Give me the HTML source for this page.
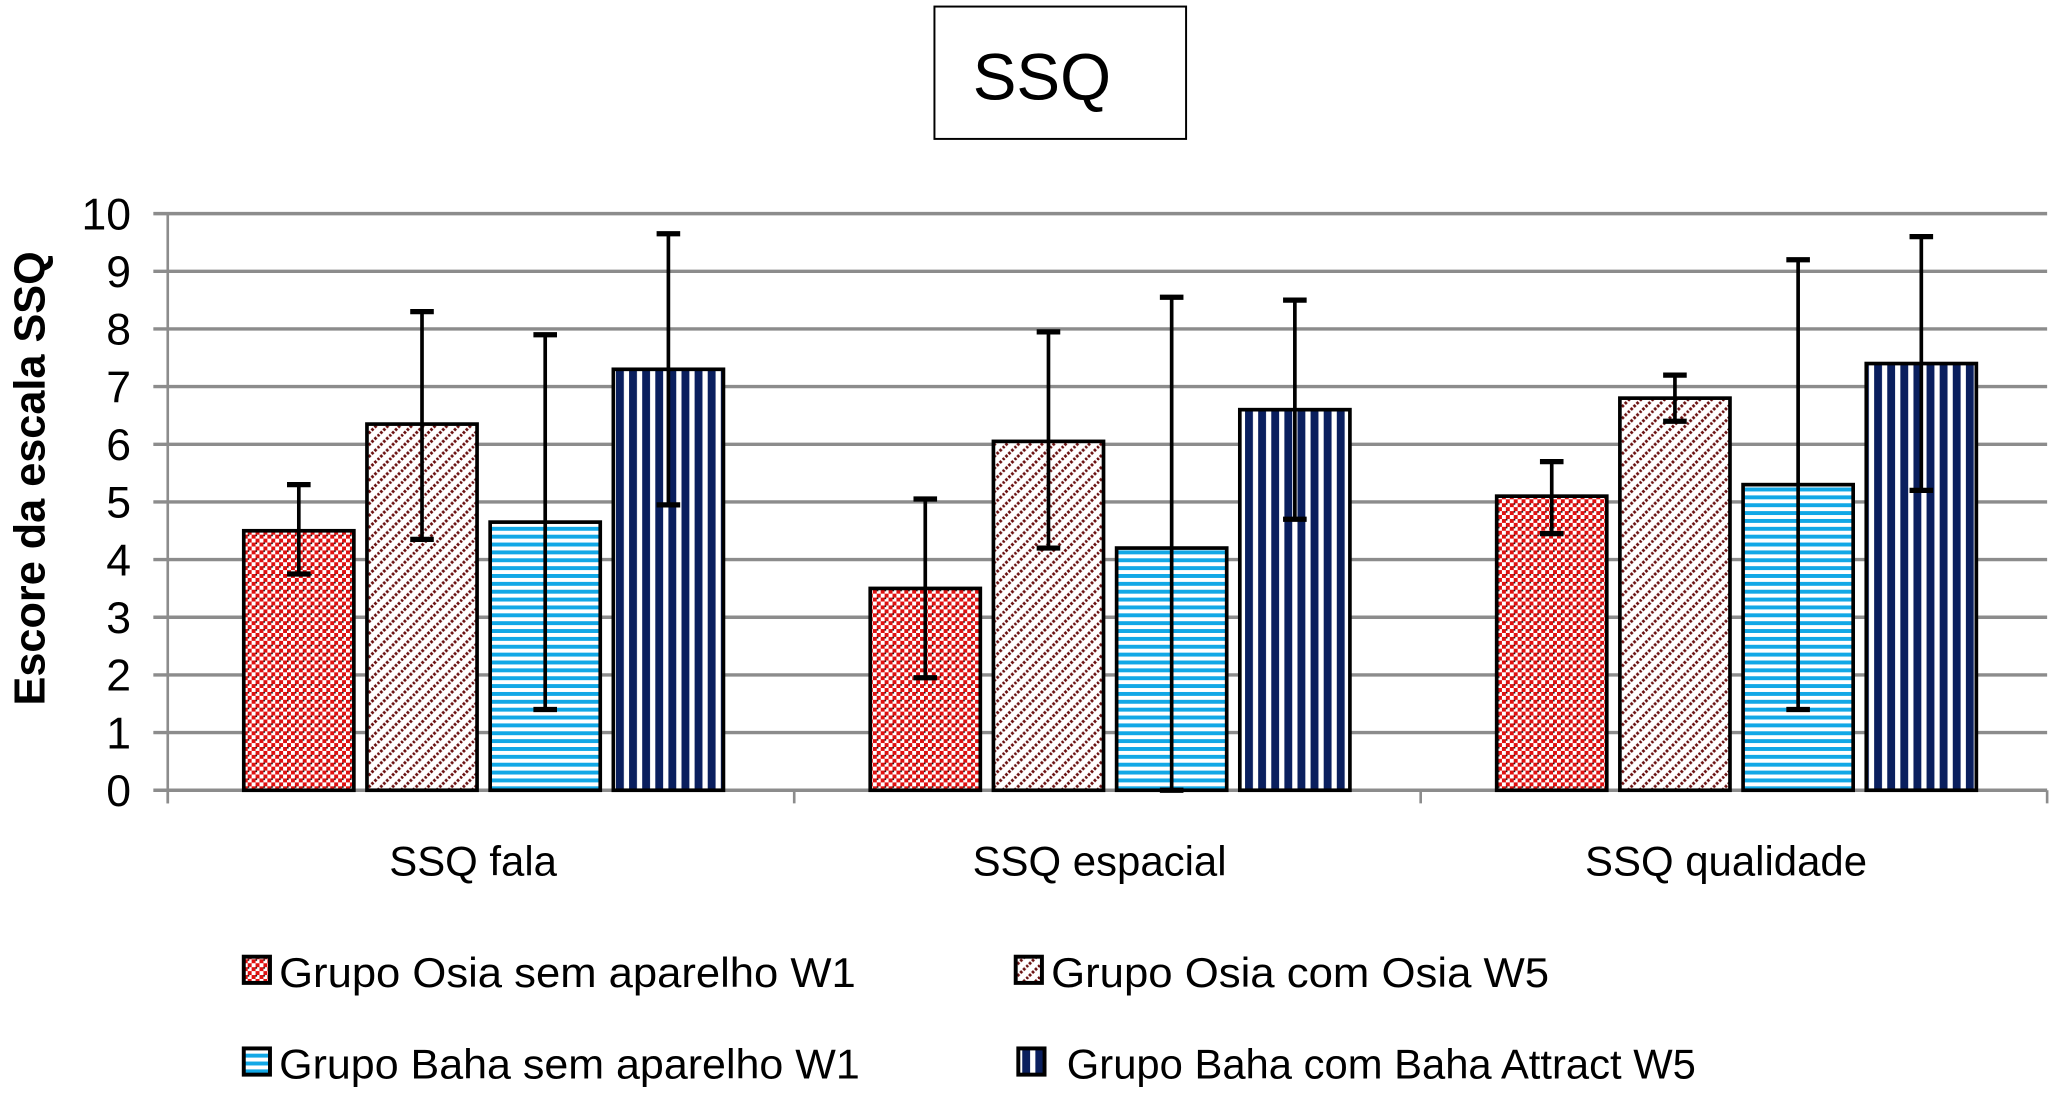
<!DOCTYPE html>
<html><head><meta charset="utf-8"><style>
html,body{margin:0;padding:0;background:#fff;}
svg{display:block;}
text{font-family:"Liberation Sans",sans-serif;}
</style></head><body>
<svg id="chart" width="2055" height="1096" viewBox="0 0 1568 836.3" preserveAspectRatio="none" xmlns="http://www.w3.org/2000/svg">
<defs>
<pattern id="p0" width="6" height="6" patternUnits="userSpaceOnUse">
<rect width="6" height="6" fill="#fff"/><rect width="3" height="3" fill="#e01010"/><rect x="3" y="3" width="3" height="3" fill="#e01010"/><rect x="3" y="0" width="1.2" height="1.2" fill="#222"/>
</pattern>
<pattern id="p1" width="9" height="9" patternUnits="userSpaceOnUse">
<rect width="9" height="9" fill="#fff"/><path d="M-2,2 L2,-2 M0,9 L9,0 M7,11 L11,7" stroke="#6a1010" stroke-width="2.2" stroke-dasharray="2,1.2"/>
</pattern>
<pattern id="p2" width="6" height="6" patternUnits="userSpaceOnUse">
<rect width="6" height="6" fill="#fff"/><rect y="0" width="6" height="3" fill="#12a8e6"/>
</pattern>
<pattern id="p3" width="10" height="10" patternUnits="userSpaceOnUse">
<rect width="10" height="10" fill="#fff"/><rect x="0" width="6" height="10" fill="#0a1f5e"/>
</pattern>
</defs>
<rect x="713" y="5" width="192" height="101" fill="#fff" stroke="#000" stroke-width="1.5"/>
<text x="795" y="76" font-size="50" text-anchor="middle" font-family="DejaVu Sans, sans-serif">SSQ</text>
<text transform="translate(34,365) rotate(-90)" font-size="33" font-weight="bold" text-anchor="middle">Escore da escala SSQ</text>
<g id="grid"></g>
<g id="bars"></g>
<g id="legend"></g>
</svg>
<script>
const categories = ["SSQ fala", "SSQ espacial", "SSQ qualidade"];
const seriesNames = ["Grupo Osia sem aparelho W1", "Grupo Osia com Osia W5", "Grupo Baha sem aparelho W1", "Grupo Baha com Baha Attract W5"];
const osiaW1 = [4.5, 3.5, 5.1];
const osiaW5 = [6.35, 6.05, 6.8];
const bahaW1 = [4.65, 4.2, 5.3];
const bahaW5 = [7.3, 6.6, 7.4];
const errLow = [[3.75, 1.95, 4.45], [4.35, 4.2, 6.4], [1.4, 0, 1.4], [4.95, 4.7, 5.2]];
const errHigh = [[5.3, 5.05, 5.7], [8.3, 7.95, 7.2], [7.9, 8.55, 9.2], [9.65, 8.5, 9.6]];
const yTicks = [0,1,2,3,4,5,6,7,8,9,10];

const NS = "http://www.w3.org/2000/svg";
const series = [osiaW1, osiaW5, bahaW1, bahaW5];
const x0 = 128, x1 = 1562, yTop = 163, yBot = 603;
const y = v => yBot - (v / 10) * (yBot - yTop);
const catW = (x1 - x0) / categories.length;
const barW = 84, gap = 10, groupOff = 58;
const bx = (c, s) => x0 + c * catW + groupOff + s * (barW + gap);
function mk(tag, attrs, parent) {
  const e = document.createElementNS(NS, tag);
  for (const k in attrs) e.setAttribute(k, attrs[k]);
  parent.appendChild(e);
  return e;
}
const grid = document.getElementById('grid');
yTicks.forEach(t => {
  const l = mk('line', {x1: 117, x2: x1, y1: y(t), y2: y(t), stroke: '#8c8c8c', 'stroke-width': 2.6}, grid);
  
  
  const tx = mk('text', {x: 100, y: y(t) + 12, 'font-size': 34, 'text-anchor': 'end', 'font-family': 'DejaVu Sans, sans-serif'}, grid);
  tx.textContent = t;
  
  
});
const ax = mk('line', {x1: x0, x2: x0, y1: yTop, y2: yBot + 10, stroke: '#8c8c8c', 'stroke-width': 2}, grid);


for (let c = 0; c <= categories.length; c++) {
  const tk = mk('line', {x1: x0 + c * catW, x2: x0 + c * catW, y1: yBot, y2: yBot + 10, stroke: '#8c8c8c', 'stroke-width': 2}, grid);
  
  
}
categories.forEach((cat, c) => {
  const tx = mk('text', {x: x0 + (c + 0.5) * catW - 6, y: 668, 'font-size': 32, 'text-anchor': 'middle'}, grid);
  tx.textContent = cat;
  
  
});
const bars = document.getElementById('bars');
categories.forEach((cat, c) => {
  series.forEach((arr, s) => {
    const v = arr[c];
    const r = mk('rect', {x: bx(c, s), y: y(v), width: barW, height: yBot - y(v), fill: 'url(#p' + s + ')', stroke: '#000', 'stroke-width': 2.8}, bars);
    
    
  });
});
categories.forEach((cat, c) => {
  series.forEach((arr, s) => {
    const cx = bx(c, s) + barW / 2;
    const lo = y(errLow[s][c]), hi = y(errHigh[s][c]);
    const g = mk('g', {stroke: '#000', 'stroke-width': 2.8}, bars);
    
    
    mk('line', {x1: cx, x2: cx, y1: lo, y2: hi}, g);
    mk('line', {x1: cx - 9, x2: cx + 9, y1: lo, y2: lo, 'stroke-width': 4}, g);
    mk('line', {x1: cx - 9, x2: cx + 9, y1: hi, y2: hi, 'stroke-width': 4}, g);
  });
});
const legend = document.getElementById('legend');
const legPos = [[186, 742], [775, 742], [186, 812], [777, 812]];
seriesNames.forEach((name, s) => {
  const [lx, ly] = legPos[s];
  const g = mk('g', {}, legend);
  
  
  mk('rect', {x: lx, y: ly - 12, width: 20, height: 20, fill: 'url(#p' + s + ')', stroke: '#000', 'stroke-width': 3}, g);
  const t = mk('text', {x: lx + (s === 3 ? 37 : 27), y: ly + 11, 'font-size': 32, textLength: s === 0 ? 440 : s === 1 ? 380 : s === 2 ? 443 : 480, lengthAdjust: 'spacingAndGlyphs'}, g);
  t.textContent = name;
});
</script>
</body></html>
